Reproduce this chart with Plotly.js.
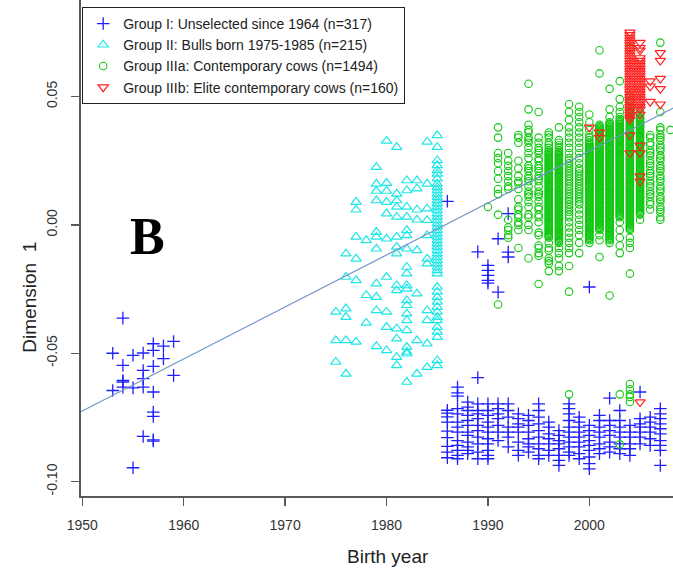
<!DOCTYPE html>
<html>
<head>
<meta charset="utf-8">
<script src="https://cdn.plot.ly/plotly-3.0.1.min.js"></script>
<style>html,body{margin:0;padding:0;background:#fff;}#chart{width:673px;height:573px;}</style>
</head>
<body>
<div id="chart"></div>
<script>
// ---------- data ----------
const seriesNames = [
  'Group I: Unselected since 1964 (n=317)',
  'Group II: Bulls born 1975-1985 (n=215)',
  'Group IIIa: Contemporary cows (n=1494)',
  'Group IIIb: Elite contemporary cows (n=160)'
];
const xTicks = [1950, 1960, 1970, 1980, 1990, 2000];
const yTicks = [-0.10, -0.05, 0.00, 0.05];
const yTickText = ['-0.10', '-0.05', '0.00', '0.05'];

// Group I (blue crosses): birth years and Dimension 1 values per year
const g1Years = [1953,1954,1955,1956,1957,1958,1959,1986,1987,1988,1989,1990,1991,1992,1993,1994,1995,1996,1997,1998,1999,2000,2001,2002,2003,2004,2005,2006,2007];
const g1Dim1 = [
  [-0.0500,-0.0645],
  [-0.0363,-0.0547,-0.0606,-0.0612,-0.0632],
  [-0.0508,-0.0635,-0.0946],
  [-0.0499,-0.0567,-0.0599,-0.0632,-0.0824],
  [-0.0463,-0.0489,-0.0551,-0.0651,-0.0729,-0.0746,-0.0837,-0.0842],
  [-0.0472,-0.0521],
  [-0.0454,-0.0586],
  [0.0092,-0.0722,-0.0733,-0.0748,-0.0768,-0.0803,-0.0829,-0.0863,-0.0885,-0.0907],
  [-0.0632,-0.0654,-0.0667,-0.0716,-0.0736,-0.0768,-0.0788,-0.0807,-0.0840,-0.0859,-0.0878,-0.0898,-0.0911],
  [-0.0690,-0.0710,-0.0723,-0.0742,-0.0762,-0.0781,-0.0807,-0.0820,-0.0846,-0.0865,-0.0878,-0.0891],
  [-0.0105,-0.0595,-0.0697,-0.0723,-0.0736,-0.0755,-0.0781,-0.0801,-0.0827,-0.0853,-0.0885,-0.0911],
  [-0.0158,-0.0177,-0.0197,-0.0216,-0.0227,-0.0697,-0.0723,-0.0742,-0.0768,-0.0788,-0.0807,-0.0833,-0.0853,-0.0878,-0.0898,-0.0911],
  [-0.0054,-0.0262,-0.0697,-0.0716,-0.0736,-0.0755,-0.0781,-0.0807,-0.0840],
  [0.0044,-0.0106,-0.0125,-0.0697,-0.0723,-0.0749,-0.0788,-0.0807,-0.0827,-0.0865],
  [-0.0736,-0.0755,-0.0775,-0.0788,-0.0807,-0.0846,-0.0878,-0.0898],
  [-0.0742,-0.0762,-0.0781,-0.0807,-0.0833,-0.0853,-0.0865,-0.0885],
  [-0.0697,-0.0723,-0.0749,-0.0775,-0.0801,-0.0827,-0.0853,-0.0872,-0.0898,-0.0911],
  [-0.0768,-0.0788,-0.0814,-0.0833,-0.0853,-0.0878,-0.0898],
  [-0.0801,-0.0820,-0.0840,-0.0853,-0.0872,-0.0898,-0.0917,-0.0937],
  [-0.0697,-0.0716,-0.0736,-0.0762,-0.0788,-0.0807,-0.0827,-0.0846,-0.0865,-0.0885,-0.0898],
  [-0.0749,-0.0768,-0.0788,-0.0807,-0.0827,-0.0846,-0.0865,-0.0891,-0.0911],
  [-0.0242,-0.0781,-0.0801,-0.0820,-0.0840,-0.0859,-0.0878,-0.0904,-0.0930,-0.0950],
  [-0.0742,-0.0762,-0.0788,-0.0807,-0.0827,-0.0853,-0.0872,-0.0891],
  [-0.0675,-0.0762,-0.0781,-0.0801,-0.0820,-0.0846,-0.0865,-0.0885],
  [-0.0723,-0.0762,-0.0788,-0.0807,-0.0827,-0.0853,-0.0872,-0.0891],
  [-0.0781,-0.0807,-0.0827,-0.0853,-0.0872,-0.0898],
  [-0.0651,-0.0755,-0.0775,-0.0788,-0.0807,-0.0827,-0.0853],
  [-0.0749,-0.0768,-0.0788,-0.0807,-0.0833,-0.0859],
  [-0.0716,-0.0736,-0.0755,-0.0775,-0.0794,-0.0814,-0.0840,-0.0859,-0.0878,-0.0937]
];

// Group II (cyan triangles)
const g2Years = [1975,1976,1977,1978,1979,1980,1981,1982,1983,1984,1985];
const g2Dim1 = [
  [-0.0339,-0.0450,-0.0534],
  [-0.0112,-0.0203,-0.0326,-0.0359,-0.0450,-0.0580],
  [0.0089,0.0059,-0.0047,-0.0132,-0.0216,-0.0456],
  [-0.0060,-0.0274,-0.0382],
  [0.0225,0.0160,0.0132,0.0095,-0.0028,-0.0047,-0.0093,-0.0229,-0.0281,-0.0333,-0.0473],
  [0.0327,0.0163,0.0132,0.0089,0.0044,-0.0054,-0.0203,-0.0339,-0.0398,-0.0489],
  [0.0303,0.0121,0.0095,0.0070,0.0031,-0.0047,-0.0086,-0.0112,-0.0236,-0.0255,-0.0404,-0.0443,-0.0515,-0.0547],
  [0.0173,0.0134,0.0070,0.0031,-0.0021,-0.0041,-0.0093,-0.0164,-0.0190,-0.0236,-0.0249,-0.0294,-0.0313,-0.0346,-0.0372,-0.0411,-0.0476,-0.0495,-0.0502,-0.0612],
  [0.0173,0.0141,0.0059,0.0020,-0.0099,-0.0268,-0.0450,-0.0580],
  [0.0323,0.0160,0.0063,0.0018,-0.0041,-0.0132,-0.0151,-0.0333,-0.0372,-0.0463,-0.0554],
  [0.0349,0.0303,0.0251,0.0232,0.0212,0.0199,0.0180,0.0160,0.0147,0.0134,0.0121,0.0108,0.0095,0.0083,0.0070,0.0057,0.0044,0.0031,0.0018,0.0005,-0.0008,-0.0021,-0.0034,-0.0047,-0.0060,-0.0073,-0.0086,-0.0099,-0.0112,-0.0125,-0.0138,-0.0151,-0.0164,-0.0177,-0.0190,-0.0242,-0.0261,-0.0281,-0.0300,-0.0320,-0.0339,-0.0359,-0.0372,-0.0398,-0.0417,-0.0437,-0.0528,-0.0547]
];

// Group IIIa (green circles)
const g3aYears = [1990,1991,1992,1993,1994,1995,1996,1997,1998,1999,2000,2001,2002,2003,2004,2005,2006,2007,2008];
const g3aDim1 = [
  [0.007],
  [0.038,0.034,0.028,0.026,0.024,0.021,0.018,0.014,0.012,0.004,-0.031],
  [0.028,0.025,0.023,0.021,0.019,0.017,0.015,0.014,0.002,-0.001,-0.002,-0.004,-0.005],
  [0.035,0.034,0.032,0.025,0.022,0.019,0.017,0.016,0.014,0.010,0.007,0.006,0.004,0.003,0.001,0.000,-0.002,-0.009],
  [0.055,0.045,0.039,0.037,0.036,0.034,0.033,0.032,0.030,0.028,0.026,0.023,0.022,0.021,0.019,0.018,0.017,0.015,0.013,0.012,0.011,0.009,0.007,0.004,0.003,0.000,-0.002,-0.013],
  [0.044,0.034,0.032,0.030,0.029,0.028,0.026,0.025,0.023,0.022,0.021,0.019,0.018,0.017,0.015,0.013,0.012,0.011,0.009,0.007,0.006,0.004,0.003,0.001,-0.003,-0.004,-0.008,-0.009,-0.011,-0.012,-0.023],
  [0.036,0.035,0.034,0.032,0.031,0.030,0.029,0.028,0.027,0.026,0.025,0.024,0.023,0.022,0.021,0.020,0.019,0.018,0.017,0.016,0.015,0.014,0.013,0.012,0.011,0.010,0.009,0.008,0.007,0.006,0.005,0.004,0.003,0.002,0.001,0.000,-0.001,-0.002,-0.003,-0.004,-0.005,-0.007,-0.009,-0.010,-0.013,-0.014,-0.015,-0.018,
   0.0285,0.0275,0.0265,0.0255,0.0245,0.0235,0.0225,0.0215,0.0205,0.0195,0.0185,0.0175,0.0165,0.0155,0.0145,0.0135,0.0125,0.0115,0.0105,0.0095,0.0085,0.0075,0.0065,0.0055,0.0045,0.0035,0.0025,0.0015,0.0005,-0.0005,-0.0015,-0.0025,-0.0035,-0.0045],
  [0.038,0.033,0.032,0.031,0.030,0.029,0.028,0.027,0.026,0.025,0.024,0.023,0.022,0.021,0.020,0.019,0.018,0.017,0.016,0.015,0.014,0.013,0.012,0.011,0.010,0.009,0.008,0.007,0.006,0.005,0.004,0.003,0.002,0.001,0.000,-0.001,-0.002,-0.003,-0.004,-0.005,-0.006,-0.007,-0.009,-0.011,-0.013,-0.016,-0.018,
   0.0285,0.0275,0.0265,0.0255,0.0245,0.0235,0.0225,0.0215,0.0205,0.0195,0.0185,0.0175,0.0165,0.0155,0.0145,0.0135,0.0125,0.0115,0.0105,0.0095,0.0085,0.0075,0.0065,0.0055,0.0045,0.0035,0.0025,0.0015,0.0005,-0.0005,-0.0015,-0.0025,-0.0035,-0.0045,-0.0055,-0.0065],
  [0.047,0.044,0.041,0.038,0.036,0.034,0.032,0.030,0.028,0.026,0.025,0.024,0.023,0.022,0.021,0.020,0.019,0.018,0.017,0.016,0.015,0.014,0.013,0.012,0.011,0.010,0.009,0.008,0.007,0.006,0.005,0.004,0.003,0.001,-0.001,-0.003,-0.005,-0.007,-0.009,-0.011,-0.016,-0.026,-0.066],
  [0.046,0.044,0.042,0.040,0.038,0.036,0.034,0.032,0.030,0.028,0.026,0.024,0.022,0.021,0.020,0.019,0.018,0.017,0.016,0.015,0.014,0.013,0.012,0.011,0.010,0.009,0.008,0.006,0.004,0.002,0.000,-0.002,-0.004,-0.007,-0.011],
  [0.043,0.040,0.037,0.035,0.034,0.033,0.032,0.031,0.030,0.029,0.028,0.027,0.026,0.025,0.024,0.023,0.022,0.021,0.020,0.019,0.018,0.017,0.016,0.015,0.014,0.013,0.012,0.011,0.010,0.009,0.008,0.007,0.006,0.005,0.004,0.003,0.002,0.001,0.000,-0.001,-0.002,-0.003,-0.004,-0.005,-0.006,-0.007,
   0.0315,0.0305,0.0295,0.0285,0.0275,0.0265,0.0255,0.0245,0.0235,0.0225,0.0215,0.0205,0.0195,0.0185,0.0175,0.0165,0.0155,0.0145,0.0135,0.0125,0.0115,0.0105,0.0095,0.0085,0.0075,0.0065,0.0055,0.0045,0.0035,0.0025,0.0015,0.0005,-0.0005,-0.0015,-0.0025,-0.0035,-0.0045,-0.0055],
  [0.068,0.059,0.039,0.038,0.037,0.036,0.035,0.034,0.033,0.032,0.031,0.030,0.029,0.028,0.027,0.026,0.025,0.024,0.023,0.022,0.021,0.020,0.019,0.018,0.017,0.016,0.015,0.014,0.013,0.012,0.011,0.010,0.009,0.008,0.007,0.006,0.005,0.004,0.003,0.002,0.001,0.000,-0.001,-0.002,-0.004,-0.006,-0.0125,
   0.0385,0.0375,0.0365,0.0355,0.0345,0.0335,0.0325,0.0315,0.0305,0.0295,0.0285,0.0275,0.0265,0.0255,0.0245,0.0235,0.0225,0.0215,0.0205,0.0195,0.0185,0.0175,0.0165,0.0155,0.0145,0.0135,0.0125,0.0115,0.0105,0.0095,0.0085,0.0075,0.0065,0.0055,0.0045,0.0035,0.0025,0.0015,0.0005,-0.0005,-0.0015],
  [0.053,0.045,0.042,0.040,0.039,0.038,0.037,0.036,0.035,0.034,0.033,0.032,0.031,0.030,0.029,0.028,0.027,0.026,0.025,0.024,0.023,0.022,0.021,0.020,0.019,0.018,0.017,0.016,0.015,0.014,0.013,0.012,0.011,0.010,0.009,0.008,0.007,0.006,0.005,0.004,0.003,0.002,0.001,0.000,-0.001,-0.002,-0.003,-0.004,-0.005,-0.006,-0.007,-0.0275,
   0.0395,0.0385,0.0375,0.0365,0.0355,0.0345,0.0335,0.0325,0.0315,0.0305,0.0295,0.0285,0.0275,0.0265,0.0255,0.0245,0.0235,0.0225,0.0215,0.0205,0.0195,0.0185,0.0175,0.0165,0.0155,0.0145,0.0135,0.0125,0.0115,0.0105,0.0095,0.0085,0.0075,0.0065,0.0055,0.0045,0.0035,0.0025,0.0015,0.0005,-0.0005,-0.0015,-0.0025,-0.0035,-0.0045,-0.0055],
  [0.056,0.049,0.046,0.044,0.042,0.041,0.040,0.039,0.038,0.037,0.036,0.035,0.034,0.033,0.032,0.031,0.030,0.029,0.028,0.027,0.026,0.025,0.024,0.023,0.022,0.021,0.020,0.019,0.018,0.017,0.016,0.015,0.014,0.013,0.012,0.011,0.010,0.009,0.008,0.007,0.006,0.005,0.004,0.003,0.001,-0.002,-0.005,-0.008,-0.011,-0.066,-0.0855,
   0.0405,0.0395,0.0385,0.0375,0.0365,0.0355,0.0345,0.0335,0.0325,0.0315,0.0305,0.0295,0.0285,0.0275,0.0265,0.0255,0.0245,0.0235,0.0225,0.0215,0.0205,0.0195,0.0185,0.0175,0.0165,0.0155,0.0145,0.0135,0.0125,0.0115,0.0105,0.0095,0.0085,0.0075,0.0065,0.0055,0.0045,0.0035],
  [0.069,0.050,0.048,0.046,0.044,0.043,0.042,0.041,0.040,0.039,0.038,0.037,0.036,0.035,0.034,0.033,0.032,0.031,0.030,0.029,0.028,0.027,0.026,0.025,0.024,0.023,0.022,0.021,0.020,0.019,0.018,0.017,0.016,0.015,0.014,0.013,0.012,0.011,0.010,0.009,0.008,0.007,0.006,0.005,0.004,0.003,0.002,0.001,0.000,-0.001,-0.002,-0.005,-0.007,-0.009,-0.019,-0.062,-0.064,-0.066,-0.067,-0.069,
   0.0435,0.0425,0.0415,0.0405,0.0395,0.0385,0.0375,0.0365,0.0355,0.0345,0.0335,0.0325,0.0315,0.0305,0.0295,0.0285,0.0275,0.0265,0.0255,0.0245,0.0235,0.0225,0.0215,0.0205,0.0195,0.0185,0.0175,0.0165,0.0155,0.0145,0.0135,0.0125,0.0115,0.0105,0.0095,0.0085,0.0075,0.0065,0.0055,0.0045,0.0035,0.0025,0.0015,0.0005,-0.0005,-0.0015],
  [0.044,0.043,0.042,0.041,0.040,0.039,0.038,0.037,0.036,0.035,0.034,0.033,0.032,0.031,0.030,0.029,0.028,0.027,0.026,0.025,0.024,0.023,0.022,0.021,0.020,0.019,0.018,0.017,0.016,0.015,0.014,0.013,0.012,0.011,0.010,0.009,0.008,0.007,0.006,0.005,0.004,0.002,
   0.0415,0.0405,0.0395,0.0385,0.0375,0.0365,0.0355,0.0345,0.0335,0.0325,0.0315,0.0305,0.0295,0.0285,0.0275,0.0265,0.0255,0.0245,0.0235,0.0225,0.0215,0.0205,0.0195,0.0185,0.0175,0.0165,0.0155,0.0145,0.0135,0.0125,0.0115,0.0105,0.0095,0.0085,0.0075,0.0065,0.0055,0.0045],
  [0.035,0.034,0.032,0.031,0.029,0.028,0.027,0.025,0.024,0.023,0.021,0.020,0.019,0.017,0.016,0.015,0.013,0.012,0.011,0.009,0.008,0.006],
  [0.071,0.044,0.038,0.037,0.035,0.034,0.033,0.031,0.030,0.029,0.027,0.026,0.025,0.023,0.022,0.021,0.019,0.018,0.017,0.015,0.014,0.013,0.011,0.010,0.009,0.007,0.006,0.005,0.003,0.002],
  [0.037]
];

// Group IIIb (red down-triangles)
const g3bYears = [2000,2001,2004,2005,2006,2007];
const g3bDim1 = [
  [0.038],
  [0.036,0.034],
  [0.075,0.074,0.073,0.072,0.071,0.070,0.069,0.068,0.067,0.066,0.065,0.064,0.063,0.062,0.061,0.060,0.059,0.058,0.057,0.056,0.055,0.054,0.053,0.052,0.051,0.050,0.049,0.048,0.047,0.046,0.045,0.044,0.043,0.042,0.041,0.035,0.028],
  [0.071,0.069,0.068,0.065,0.064,0.063,0.062,0.061,0.060,0.059,0.058,0.057,0.056,0.055,0.054,0.053,0.052,0.051,0.050,0.049,0.048,0.047,0.046,0.045,0.043,0.031,0.028,0.019,0.017,-0.069],
  [0.056,0.054,0.048],
  [0.067,0.064,0.057,0.053,0.047]
];

// fitted trend line (read at the plot edges)
const fitYears = [1949, 2009];
const fitDim1 = [-0.0745, 0.0470];

// ---------- build traces ----------
function flatten(years, vals) {
  const x = [], y = [];
  years.forEach((yr, i) => vals[i].forEach(v => { x.push(yr); y.push(v); }));
  return {x, y};
}
const d1 = flatten(g1Years, g1Dim1);
const d2 = flatten(g2Years, g2Dim1);
const d3a = flatten(g3aYears, g3aDim1);
const d3b = flatten(g3bYears, g3bDim1);

const traces = [
  {type:'scatter', mode:'markers', name:seriesNames[0], x:d1.x, y:d1.y,
   marker:{symbol:'cross-thin-open', size:9, color:'#1f1fff', line:{color:'#1f1fff', width:1.3}}},
  {type:'scatter', mode:'markers', name:seriesNames[1], x:d2.x, y:d2.y,
   marker:{symbol:'triangle-up-open', size:9, color:'#1ee6e6', line:{color:'#1ee6e6', width:1.2}}},
  {type:'scatter', mode:'markers', name:seriesNames[2], x:d3a.x, y:d3a.y,
   marker:{symbol:'circle-open', size:7.5, color:'#11c811', line:{color:'#11c811', width:1.1}}},
  {type:'scatter', mode:'markers', name:seriesNames[3], x:d3b.x, y:d3b.y,
   marker:{symbol:'triangle-down-open', size:9, color:'#ff2020', line:{color:'#ff2020', width:1.2}}},
  {type:'scatter', mode:'lines', x:fitYears, y:fitDim1, showlegend:false, hoverinfo:'skip',
   line:{color:'#7094c8', width:1.2}}
];

const axisCommon = {
  showgrid:false, zeroline:false, showline:true, linecolor:'#5a5a5a', linewidth:2,
  ticks:'outside', ticklen:8, tickwidth:1.5, tickcolor:'#5a5a5a',
  tickfont:{family:'Liberation Sans, Arial, sans-serif', size:14, color:'#333'}
};

const layout = {
  width:673, height:573,
  margin:{l:81, r:0, t:0, b:77},
  paper_bgcolor:'#fff', plot_bgcolor:'#fff',
  font:{family:'Liberation Sans, Arial, sans-serif', color:'#222'},
  showlegend:true,
  xaxis:Object.assign({}, axisCommon, {range:[1949.87, 2008.25], tickvals:xTicks, ticktext:xTicks.map(String), ticklabelstandoff:7}),
  yaxis:Object.assign({}, axisCommon, {range:[-0.1056, 0.0876], tickvals:yTicks, ticktext:yTickText, tickangle:-90, ticklabelstandoff:8}),
  legend:{x:0.002, y:0.986, xanchor:'left', yanchor:'top', bgcolor:'#fff', bordercolor:'#222', borderwidth:1,
          font:{family:'Liberation Sans, Arial, sans-serif', size:14, color:'#222'}, itemwidth:30, tracegroupgap:0},
  annotations:[
    {text:'<b>B</b>', xref:'paper', yref:'paper', x:0.113, y:0.524, xanchor:'center', yanchor:'middle', showarrow:false,
     font:{family:'Liberation Serif, Times New Roman, serif', size:52, color:'#000'}},
    {text:'Birth year', xref:'paper', yref:'paper', x:0.5186, y:-0.121, xanchor:'center', yanchor:'middle', showarrow:false,
     font:{family:'Liberation Sans, Arial, sans-serif', size:19, color:'#222'}},
    {text:'Dimension\u00a0 1', xref:'paper', yref:'paper', x:-0.086, y:0.40, xanchor:'center', yanchor:'middle', showarrow:false, textangle:-90,
     font:{family:'Liberation Sans, Arial, sans-serif', size:19, color:'#222'}}
  ]
};

Plotly.newPlot('chart', traces, layout, {staticPlot:true, displayModeBar:false});
</script>
</body>
</html>
